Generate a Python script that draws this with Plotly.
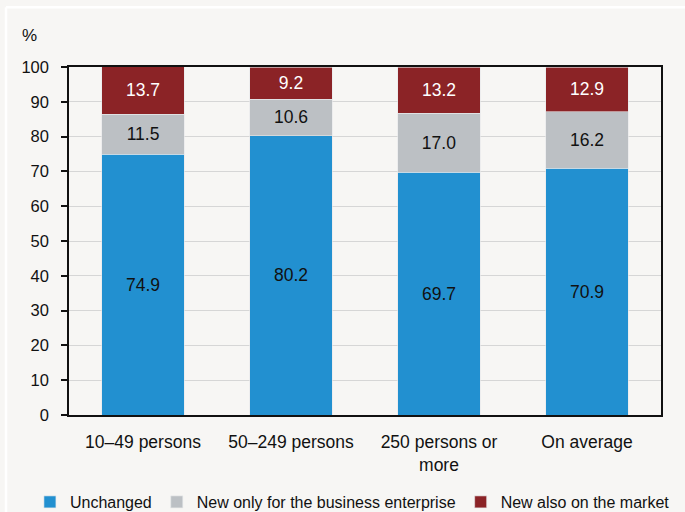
import plotly.graph_objects as go

categories = ["10–49 persons", "50–249 persons", "250 persons or<br>more", "On average"]
unchanged = [74.9, 80.2, 69.7, 70.9]
new_business = [11.5, 10.6, 17.0, 16.2]
new_market = [13.7, 9.2, 13.2, 12.9]
series_names = ["Unchanged", "New only for the business enterprise", "New also on the market"]
y_ticks = [0, 10, 20, 30, 40, 50, 60, 70, 80, 90, 100]

FONT = "Liberation Sans, Arial, sans-serif"
BG = "#f7f6f4"

colors = ["#2290d0", "#bcc0c4", "#8b2326"]
text_colors = ["#111111", "#111111", "#ffffff"]
series = [unchanged, new_business, new_market]

fig = go.Figure()
for name, vals, col, tc in zip(series_names, series, colors, text_colors):
    fig.add_trace(go.Bar(
        x=categories, y=vals, name=name,
        marker=dict(color=col, line=dict(color="#e6e8ea", width=0.6)),
        text=[f"{v:.1f}" for v in vals],
        textposition="inside", insidetextanchor="middle",
        textfont=dict(family=FONT, size=17.5, color=tc),
        cliponaxis=True,
    ))

fig.update_layout(
    barmode="stack",
    bargap=0.44,
    width=685, height=512,
    margin=dict(l=69, r=24, t=67, b=97, autoexpand=False),
    paper_bgcolor=BG, plot_bgcolor=BG,
    font=dict(family=FONT, size=17, color="#111111"),
    showlegend=True,
    legend=dict(orientation="h", x=-0.066, xanchor="left", y=-0.25, yanchor="middle",
                traceorder="normal",
                font=dict(family=FONT, size=16, color="#111111"),
                itemwidth=30, tracegroupgap=0, bgcolor="rgba(0,0,0,0)"),
    uniformtext=dict(minsize=10, mode="show"),
)
fig.update_xaxes(
    showline=True, linecolor="#111111", linewidth=1.5, mirror=True,
    ticks="", ticklabelstandoff=10,
    tickfont=dict(family=FONT, size=17.5, color="#111111"),
)
fig.update_yaxes(
    range=[0, 100], tickvals=y_ticks, ticks="outside", ticklen=6, tickwidth=1.5,
    tickcolor="#111111", showline=True, linecolor="#111111", linewidth=1.5, mirror=True,
    showgrid=True, gridcolor="#d6d6d6", gridwidth=1, ticklabelstandoff=9,
    tickfont=dict(family=FONT, size=16.5, color="#111111"), zeroline=False,
)
fig.add_annotation(text="%", xref="paper", yref="paper", x=-0.066, y=1.09,
                   showarrow=False, xanchor="center", yanchor="middle",
                   font=dict(family=FONT, size=17, color="#111111"))
# inner panel light frame
fig.add_shape(type="line", xref="paper", yref="paper", x0=-0.1064, x1=-0.1064, y0=-0.5, y1=1.172,
              line=dict(color="#ffffff", width=2.5))
fig.add_shape(type="line", xref="paper", yref="paper", x0=-0.1064, x1=1.05, y0=1.172, y1=1.172,
              line=dict(color="#ffffff", width=2.5))

fig.write_html("out.html", config={"displayModeBar": False},
               post_script="document.body.style.margin='0';document.body.style.background='#f7f6f4';")
